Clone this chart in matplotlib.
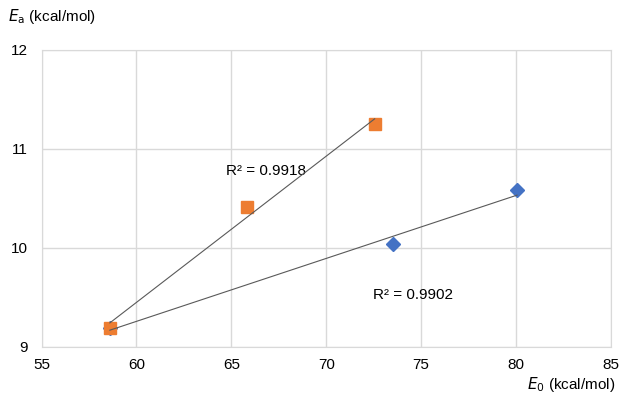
import matplotlib
matplotlib.use("Agg")
import matplotlib.pyplot as plt
import numpy as np

plt.rcParams['font.family'] = ['Liberation Sans', 'DejaVu Sans']

# Data
blue_x = [58.6, 73.5, 80.05]
blue_y = [9.19, 10.04, 10.585]
orange_x = [58.6, 65.8, 72.55]
orange_y = [9.19, 10.41, 11.25]
blue_r2 = "R² = 0.9902"
orange_r2 = "R² = 0.9918"
xticks = [55, 60, 65, 70, 75, 80, 85]
yticks = [9, 10, 11, 12]

fig = plt.figure(figsize=(6.22, 3.96), dpi=100)
ax = fig.add_axes([41.5/622, 1-346.7/396, (611-41.5)/622, (346.7-50)/396])

ax.plot(blue_x, blue_y, linestyle='none', marker='D', color='#4472C4', markersize=7, zorder=3)
ax.plot(orange_x, orange_y, linestyle='none', marker='s', color='#ED7D31', markersize=8, zorder=4)

for xs, ys in [(blue_x, blue_y), (orange_x, orange_y)]:
    m, b = np.polyfit(xs, ys, 1)
    xx = np.array([min(xs), max(xs)])
    ax.plot(xx, m*xx + b, color='#595959', linewidth=0.8, zorder=5)

ax.text(64.7, 10.78, orange_r2, fontsize=11, va='center', ha='left')
ax.text(72.45, 9.52, blue_r2, fontsize=11, va='center', ha='left')

ax.set_xlim(55, 85)
ax.set_ylim(9, 12)
ax.set_xticks(xticks)
ax.set_yticks(yticks)
ax.tick_params(length=0, labelsize=11, pad=8)
ax.tick_params(axis='y', pad=10)
ax.grid(True, color='#d9d9d9', linewidth=1)
ax.set_axisbelow(True)
for s in ax.spines.values():
    s.set_color('#d9d9d9')

fig.text(8/622, 1-17/396, r'$\mathit{E}_{\mathrm{a}}$ (kcal/mol)', fontsize=11, va='center', ha='left')
fig.text(615/622, 1-385/396, r'$\mathit{E}_{0}$ (kcal/mol)', fontsize=11, va='center', ha='right')

fig.savefig('out.png', dpi=100)
